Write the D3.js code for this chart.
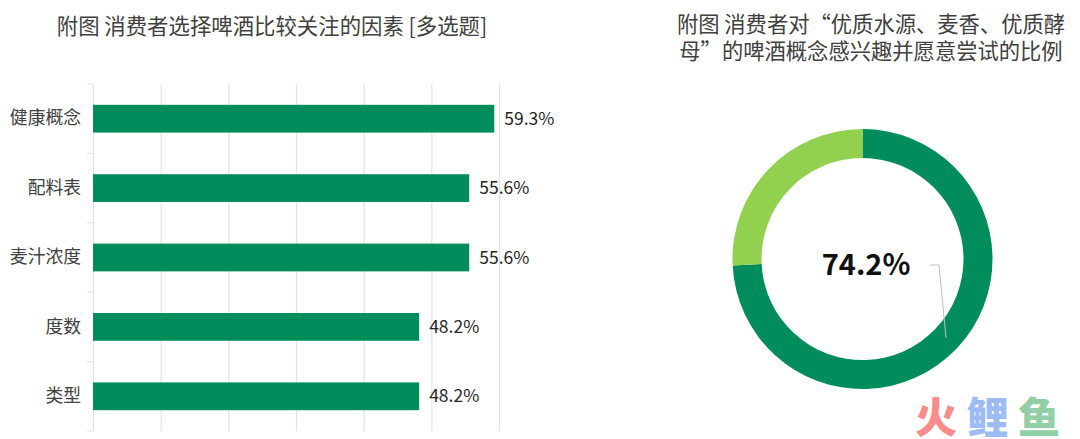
<!DOCTYPE html>
<html>
<head>
<meta charset="utf-8">
<script src="https://cdn.jsdelivr.net/npm/d3@7"></script>
<style>
  html, body { margin: 0; padding: 0; background: #fff; }
  svg { display: block; }
  text { font-family: "Noto Sans CJK SC", "Noto Sans", sans-serif; }
</style>
</head>
<body>
<script>
// bar chart data
var categories = ["健康概念", "配料表", "麦汁浓度", "度数", "类型"];
var barValues = [59.3, 55.6, 55.6, 48.2, 48.2];
var barTicks = [0, 10, 20, 30, 40, 50, 60];

// donut data
var donutNames = ["愿意尝试", "其他"];
var donutValues = [74.2, 25.8];
var donutColors = ["#008d5b", "#92d050"];

var barTitle = "附图 消费者选择啤酒比较关注的因素 [多选题]";
var donutTitle = ["附图 消费者对“优质水源、麦香、优质酵", "母”的啤酒概念感兴趣并愿意尝试的比例"];
var donutLabel = "74.2%";

var watermark = ["火", "鲤", "鱼"];
var watermarkColors = ["#f98b8b", "#9dbcf5", "#93cfa6"];

var svg = d3.select("body")
  .append("svg")
    .attr("width", 1080)
    .attr("height", 439);

var margin = { top: 84, left: 93, bottom: 431, right: 499 };

var x = d3.scaleLinear()
  .domain([0, 60])
  .range([margin.left, margin.right]);

var y = d3.scaleBand()
  .domain(categories)
  .range([margin.top, margin.bottom])
  .paddingInner(0.6)
  .paddingOuter(0.3);

// titles
svg.append("text")
  .attr("x", 272)
  .attr("y", 34)
  .attr("text-anchor", "middle")
  .attr("fill", "#404040")
  .style("font-size", "21.4px")
  .text(barTitle);

svg.append("g")
  .selectAll("text")
  .data(donutTitle)
  .enter()
  .append("text")
    .attr("x", 871)
    .attr("y", function(d, i) { return 32 + i * 27; })
    .attr("text-anchor", "middle")
    .attr("fill", "#404040")
    .style("font-size", "21.3px")
    .text(function(d) { return d; });

// grid lines
var grid = svg.append("g")
  .attr("transform", "translate(0," + margin.bottom + ")")
  .call(d3.axisBottom(x).tickValues(barTicks).tickSize(margin.top - margin.bottom).tickFormat(""));
grid.select(".domain").remove();
grid.selectAll("line").attr("stroke", "#e3e3e3").attr("stroke-width", 1.2);

// category axis, tick marks sit on the band edges
var yAxis = svg.append("g")
  .attr("transform", "translate(" + margin.left + ",0)")
  .call(d3.axisLeft(y).tickSize(0).tickPadding(12));
yAxis.select(".domain").remove();
yAxis.selectAll("text")
  .attr("fill", "#404040")
  .style("font-size", "17.8px");

var step = y.step();
svg.append("g")
  .selectAll("line")
  .data(d3.range(categories.length + 1))
  .enter()
  .append("line")
    .attr("x1", margin.left - 6)
    .attr("x2", margin.left)
    .attr("y1", function(d) { return margin.top + d * step; })
    .attr("y2", function(d) { return margin.top + d * step; })
    .attr("stroke", "#e3e3e3")
    .attr("stroke-width", 1.2);

// bars
svg.append("g")
  .selectAll("rect")
  .data(barValues)
  .enter()
  .append("rect")
    .attr("x", x(0))
    .attr("y", function(d, i) { return y(categories[i]); })
    .attr("width", function(d) { return x(d) - x(0); })
    .attr("height", y.bandwidth())
    .attr("fill", "#008d5b");

// bar labels
svg.append("g")
  .selectAll("text")
  .data(barValues)
  .enter()
  .append("text")
    .attr("x", function(d) { return x(d) + 10; })
    .attr("y", function(d, i) { return y(categories[i]) + y.bandwidth() / 2; })
    .attr("dy", "0.35em")
    .attr("fill", "#262626")
    .style("font-size", "17.5px")
    .text(function(d) { return d.toFixed(1) + "%"; });

// donut
var pie = d3.pie().sort(null);
var arc = d3.arc().innerRadius(101).outerRadius(130);

var donut = svg.append("g")
  .attr("transform", "translate(862.5,259)");

donut.selectAll("path")
  .data(pie(donutValues))
  .enter()
  .append("path")
    .attr("d", arc)
    .attr("fill", function(d, i) { return donutColors[i]; })
    .append("title")
      .text(function(d, i) { return donutNames[i]; });

// leader line
svg.append("polyline")
  .attr("points", "930,265 939,265 946,338")
  .attr("fill", "none")
  .attr("stroke", "#bfbfbf")
  .attr("stroke-width", 1);

svg.append("text")
  .attr("x", 866)
  .attr("y", 265)
  .attr("dy", "0.35em")
  .attr("text-anchor", "middle")
  .attr("fill", "#111")
  .style("font-size", "29px")
  .style("font-weight", "700")
  .text(donutLabel);

// watermark
svg.append("g")
  .selectAll("text")
  .data(watermark)
  .enter()
  .append("text")
    .attr("x", function(d, i) { return 936 + i * 51.5; })
    .attr("y", 433)
    .attr("text-anchor", "middle")
    .attr("fill", function(d, i) { return watermarkColors[i]; })
    .style("font-size", "42px")
    .style("font-weight", "900")
    .text(function(d) { return d; });
</script>
</body>
</html>
